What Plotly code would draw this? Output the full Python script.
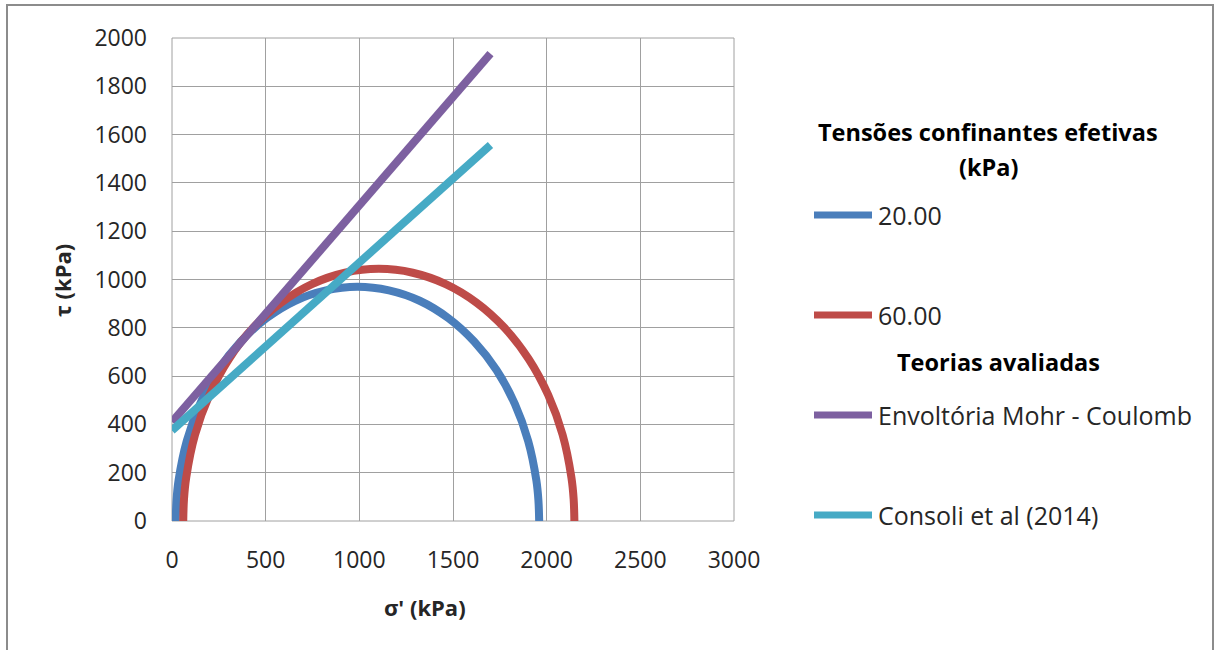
import plotly.graph_objects as go

# ---- data ----
sigma_20 = [20, 24, 35, 79, 150, 247, 367, 505, 658, 822, 990, 1158, 1322, 1475, 1613, 1733, 1830, 1901, 1945, 1956, 1960]
tau_20 = [0, 85, 168, 332, 485, 624, 743, 840, 912, 955, 970, 955, 912, 840, 743, 624, 485, 332, 168, 85, 0]

sigma_60 = [60, 64, 76, 123, 200, 304, 433, 582, 747, 923, 1104, 1285, 1461, 1626, 1775, 1904, 2008, 2085, 2132, 2144, 2148]
tau_60 = [0, 91, 181, 357, 522, 671, 800, 904, 981, 1028, 1044, 1028, 981, 904, 800, 671, 522, 357, 181, 91, 0]

sigma_mc = [0, 1700]
tau_mc = [410, 1935]

sigma_consoli = [0, 1700]
tau_consoli = [375, 1557]

x_ticks = [0, 500, 1000, 1500, 2000, 2500, 3000]
y_ticks = [0, 200, 400, 600, 800, 1000, 1200, 1400, 1600, 1800, 2000]

names = ["20.00", "60.00", "Envoltória Mohr - Coulomb", "Consoli et al (2014)"]
colors = ["#4A7EBB", "#BE4B48", "#7D60A0", "#46AAC5"]

FONT = "Open Sans"
TXT = "#262626"

fig = go.Figure()
series = [(sigma_20, tau_20), (sigma_60, tau_60), (sigma_mc, tau_mc), (sigma_consoli, tau_consoli)]
for (xs, ys), nm, c in zip(series, names, colors):
    fig.add_trace(go.Scatter(x=xs, y=ys, mode="lines", name=nm,
                             line=dict(color=c, width=8, shape="spline", smoothing=1.0),
                             showlegend=False))

L, R, T, B = 172, 480, 38, 129
W, H = 1214, 650
pw, ph = W - L - R, H - T - B

def px(x):
    return (x - L) / pw

def py(y):
    return (H - B - y) / ph

fig.update_layout(
    width=W, height=H,
    margin=dict(l=L, r=R, t=T, b=B, autoexpand=False),
    paper_bgcolor="white", plot_bgcolor="white",
    font=dict(family=FONT, color=TXT),
    xaxis=dict(range=[0, 3000], tickvals=x_ticks, ticktext=[str(v) for v in x_ticks],
               showgrid=True, gridcolor="#A0A0A0", gridwidth=1,
               zeroline=False, showline=False, ticks="",
               tickfont=dict(family=FONT, size=23, color=TXT), ticklabelstandoff=23,
               fixedrange=True),
    yaxis=dict(range=[0, 2000], tickvals=y_ticks, ticktext=[str(v) for v in y_ticks],
               showgrid=True, gridcolor="#A0A0A0", gridwidth=1,
               zeroline=False, showline=False, ticks="",
               tickfont=dict(family=FONT, size=23, color=TXT), ticklabelstandoff=24,
               fixedrange=True),
    showlegend=False,
)

# frame of the plot area (grid border)
fig.add_shape(type="rect", xref="paper", yref="paper", x0=0, x1=1, y0=0, y1=1,
              line=dict(color="#A0A0A0", width=1), layer="below")

# outer chart border
fig.add_shape(type="rect", xref="paper", yref="paper",
              x0=px(7), x1=px(1213), y0=py(660), y1=py(5),
              line=dict(color="#8C8C8C", width=2))

def note(x, y, text, size, color=TXT, anchor="center", angle=0):
    fig.add_annotation(x=px(x), y=py(y), xref="paper", yref="paper", text=text,
                       xanchor=anchor, yanchor="middle", textangle=angle,
                       showarrow=False, font=dict(family=FONT, size=size, color=color))

# axis titles
note(425, 607, "<b>σ' (kPa)</b>", 22)
note(62, 281, "<b>τ (kPa)</b>", 22, angle=-90)

# manual legend
note(988, 132, "<b>Tensões confinantes efetivas</b>", 23.5, color="black")
note(988, 167, "<b>(kPa)</b>", 23.5, color="black")
note(998, 362, "<b>Teorias avaliadas</b>", 23.5, color="black")

entry_y = [215, 315, 415, 515]
for nm, c, yy in zip(names, colors, entry_y):
    fig.add_shape(type="line", xref="paper", yref="paper",
                  x0=px(814), x1=px(872), y0=py(yy), y1=py(yy),
                  line=dict(color=c, width=7))
    note(876, yy, nm, 25, anchor="left")

fig.write_html("out.html")
